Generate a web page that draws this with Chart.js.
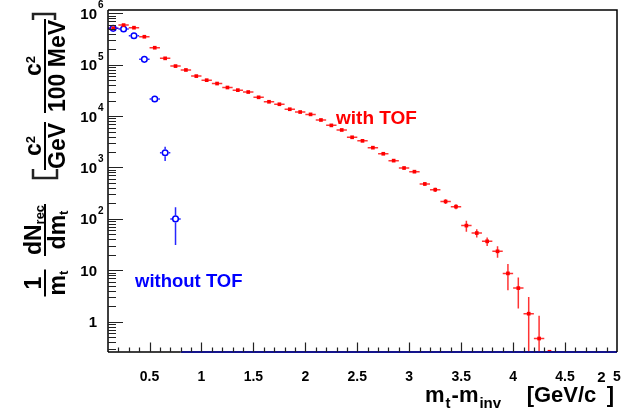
<!DOCTYPE html>
<html>
<head>
<meta charset="utf-8">
<script src="https://cdn.jsdelivr.net/npm/chart.js@4.4.1/dist/chart.umd.min.js"></script>
<style>
  html, body { margin: 0; padding: 0; background: #fff; }
  #wrap { width: 643px; height: 414px; }
</style>
</head>
<body>
<div id="wrap"><canvas id="mtChart" width="643" height="414"></canvas></div>
<script>
// bin centres of m_t - m_inv (GeV/c^2), bin width 0.1
var binCenters = [0.15, 0.25, 0.35, 0.45, 0.55, 0.65, 0.75, 0.85, 0.95, 1.05,
  1.15, 1.25, 1.35, 1.45, 1.55, 1.65, 1.75, 1.85, 1.95, 2.05,
  2.15, 2.25, 2.35, 2.45, 2.55, 2.65, 2.75, 2.85, 2.95, 3.05,
  3.15, 3.25, 3.35, 3.45, 3.55, 3.65, 3.75, 3.85, 3.95, 4.05,
  4.15, 4.25, 4.35, 4.45, 4.55, 4.65, 4.75, 4.85, 4.95];

// "with TOF" spectrum (first 43 bins)
var withTof = [5.1e5, 5.9e5, 5.25e5, 3.5e5, 2.14e5, 1.33e5, 9.4e4, 7.9e4, 6.0e4, 5.0e4,
  4.3e4, 3.6e4, 3.2e4, 2.94e4, 2.32e4, 1.9e4, 1.7e4, 1.36e4, 1.2e4, 1.08e4,
  8400, 6600, 5370, 3870, 3300, 2430, 1850, 1360, 977, 829,
  478, 370, 218, 173, 74, 53, 36.6, 23.4, 8.7, 4.5,
  1.43, 0.47, 0.26];
var withTofErr = [8000, 9000, 8000, 6000, 4000, 2600, 1900, 1600, 1300, 1100,
  950, 800, 720, 680, 560, 470, 430, 360, 330, 300,
  250, 210, 180, 140, 125, 100, 85, 68, 55, 50,
  38, 35, 24, 19, 18, 9.8, 7, 5.9, 4.6, 2.7,
  1.6, 0.84, 0];

// "without TOF" spectrum (all bins, empty above 0.8)
var withoutTof = [5.1e5, 4.95e5, 3.66e5, 1.27e5, 2.15e4, 1940, 100, 0, 0, 0,
  0, 0, 0, 0, 0, 0, 0, 0, 0, 0,
  0, 0, 0, 0, 0, 0, 0, 0, 0, 0,
  0, 0, 0, 0, 0, 0, 0, 0, 0, 0,
  0, 0, 0, 0, 0, 0, 0, 0, 0];
var withoutTofErr = [7000, 7000, 6000, 3500, 1500, 600, 69, 0, 0, 0,
  0, 0, 0, 0, 0, 0, 0, 0, 0, 0,
  0, 0, 0, 0, 0, 0, 0, 0, 0, 0,
  0, 0, 0, 0, 0, 0, 0, 0, 0, 0,
  0, 0, 0, 0, 0, 0, 0, 0, 0];

var xTickValues = [0.5, 1, 1.5, 2, 2.5, 3, 3.5, 4, 4.5, 5];
var xTickLabels = ['0.5', '1', '1.5', '2', '2.5', '3', '3.5', '4', '4.5', '5'];
var yTickValues = [1e6, 1e5, 1e4, 1e3, 1e2, 10, 1];
var yTickBase = ['10', '10', '10', '10', '10', '10', '1'];
var yTickExp = ['6', '5', '4', '3', '2', '', ''];

var BIN_HALF = 0.05;
var FONT = '"Liberation Sans", Arial, Helvetica, sans-serif';

function font(size) {
  return 'bold ' + size + 'px ' + FONT;
}

// pieces: [{t: text, k: 'sub'|'sup'}]
function richWidth(ctx, pieces, st) {
  var w = 0;
  pieces.forEach(function (p) {
    ctx.font = font(p.k ? st.small : st.size);
    w += ctx.measureText(p.t).width + (p.k ? st.gap || 0 : 0);
  });
  return w;
}

function drawRich(ctx, pieces, x, y, st) {
  ctx.textAlign = 'left';
  ctx.textBaseline = 'alphabetic';
  pieces.forEach(function (p) {
    var dy = 0;
    if (p.k === 'sub') dy = st.subDy;
    if (p.k === 'sup') dy = st.supDy;
    ctx.font = font(p.k ? st.small : st.size);
    if (p.k) x += (st.gap || 0) / 2;
    ctx.fillText(p.t, x, y + dy);
    x += ctx.measureText(p.t).width;
    if (p.k) x += (st.gap || 0) / 2;
  });
}

var errorBarPlugin = {
  id: 'errorBars',
  beforeDatasetsDraw: function (chart) {
    var ctx = chart.ctx;
    var xs = chart.scales.x;
    var ys = chart.scales.y;
    var area = chart.chartArea;
    ctx.save();
    ctx.beginPath();
    ctx.rect(area.left, area.top, area.right - area.left, area.bottom - area.top);
    ctx.clip();
    chart.data.datasets.forEach(function (ds) {
      ctx.strokeStyle = ds.errorColor;
      ctx.lineWidth = ds.errorWidth;
      ds.data.forEach(function (p, i) {
        if (!(p.y > 0)) return;
        var e = ds.errors[i] || 0;
        var px = xs.getPixelForValue(p.x);
        var py = ys.getPixelForValue(p.y);
        var xl = xs.getPixelForValue(p.x - BIN_HALF);
        var xr = xs.getPixelForValue(p.x + BIN_HALF);
        var yt = ys.getPixelForValue(p.y + e);
        var yb = p.y - e > ys.min ? ys.getPixelForValue(p.y - e) : area.bottom;
        var g = ds.errorGap;
        ctx.beginPath();
        ctx.moveTo(xl, py); ctx.lineTo(px - g, py);
        ctx.moveTo(px + g, py); ctx.lineTo(xr, py);
        if (py - yt > g) { ctx.moveTo(px, py - g); ctx.lineTo(px, yt); }
        if (yb - py > g) { ctx.moveTo(px, py + g); ctx.lineTo(px, yb); }
        ctx.stroke();
      });
    });
    ctx.restore();
  }
};

var frameStyle = { size: 23, small: 13, subDy: 3, supDy: -6 };

function drawFraction(ctx, num, den, center) {
  var wn = richWidth(ctx, num, frameStyle);
  var wd = richWidth(ctx, den, frameStyle);
  var wb = Math.max(wn, wd) + 2;
  drawRich(ctx, num, -center - wn / 2, -4, frameStyle);
  drawRich(ctx, den, -center - wd / 2, 20, frameStyle);
  ctx.beginPath();
  ctx.moveTo(-center - wb / 2, 0);
  ctx.lineTo(-center + wb / 2, 0);
  ctx.stroke();
}

var rootFramePlugin = {
  id: 'rootFrame',
  afterDatasetsDraw: function (chart) {
    var ctx = chart.ctx;
    var xs = chart.scales.x;
    var ys = chart.scales.y;
    var a = chart.chartArea;
    ctx.save();

    // empty bins drawn along the bottom of the frame
    chart.data.datasets.forEach(function (ds) {
      if (!ds.zeroColor) return;
      ctx.strokeStyle = ds.zeroColor;
      ctx.lineWidth = 2;
      ctx.beginPath();
      ds.data.forEach(function (p) {
        if (p.y !== 0) return;
        ctx.moveTo(xs.getPixelForValue(p.x - BIN_HALF), a.bottom);
        ctx.lineTo(xs.getPixelForValue(p.x + BIN_HALF), a.bottom);
      });
      ctx.stroke();
    });

    // frame
    ctx.strokeStyle = '#000';
    ctx.lineWidth = 1.5;
    ctx.beginPath();
    ctx.moveTo(a.left, a.top); ctx.lineTo(a.right, a.top); ctx.lineTo(a.right, a.bottom);
    ctx.moveTo(a.left, a.top); ctx.lineTo(a.left, a.bottom);
    ctx.moveTo(a.left, a.bottom); ctx.lineTo(xs.getPixelForValue(0.8), a.bottom);
    ctx.stroke();

    // y ticks
    ctx.lineWidth = 1.2;
    ctx.strokeStyle = '#222';
    ctx.beginPath();
    for (var d = -1; d <= 6; d++) {
      for (var k = 1; k <= 9; k++) {
        var v = k * Math.pow(10, d);
        if (v < ys.min || v > ys.max) continue;
        var py = Math.round(ys.getPixelForValue(v)) + 0.5;
        ctx.moveTo(a.left, py);
        ctx.lineTo(a.left + (k === 1 ? 15 : 8), py);
      }
    }
    // x ticks
    for (var t = 1; t <= 50; t++) {
      var xv = t / 10;
      if (xv < xs.min + 1e-9 || xv > xs.max - 1e-9) continue;
      var px = Math.round(xs.getPixelForValue(xv)) + 0.5;
      ctx.moveTo(px, a.bottom);
      ctx.lineTo(px, a.bottom - (t % 5 === 0 ? 9.5 : 4.5));
    }
    ctx.stroke();

    // tick labels
    ctx.fillStyle = '#000';
    ctx.textBaseline = 'alphabetic';
    ctx.font = font(14);
    ctx.textAlign = 'center';
    xTickValues.forEach(function (v, i) {
      ctx.fillText(xTickLabels[i], xs.getPixelForValue(v), 381);
    });
    yTickValues.forEach(function (v, i) {
      var py = ys.getPixelForValue(v);
      ctx.font = font(15);
      ctx.textAlign = 'right';
      ctx.fillText(yTickBase[i], 97, py + 5.5);
      if (yTickExp[i]) {
        ctx.font = font(10);
        ctx.textAlign = 'left';
        ctx.fillText(yTickExp[i], 98, py - 5);
      }
    });

    // x axis title
    var xStyle = { size: 22, small: 15, subDy: 6.5, supDy: -20, gap: 2 };
    drawRich(ctx, [{ t: 'm' }, { t: 't', k: 'sub' }, { t: '-m' }, { t: 'inv', k: 'sub' }], 425, 401.5, xStyle);
    var unit = [{ t: '[GeV/c' }, { t: '2', k: 'sup' }, { t: ']' }];
    drawRich(ctx, unit, 614 - richWidth(ctx, unit, xStyle), 401.5, xStyle);

    // y axis title, rotated
    ctx.save();
    ctx.translate(45, 0);
    ctx.rotate(-Math.PI / 2);
    ctx.strokeStyle = '#000';
    ctx.lineWidth = 2;
    drawFraction(ctx, [{ t: '1' }], [{ t: 'm' }, { t: 't', k: 'sub' }], 283);
    drawFraction(ctx, [{ t: 'dN' }, { t: 'rec', k: 'sub' }], [{ t: 'dm' }, { t: 't', k: 'sub' }], 230);
    drawFraction(ctx, [{ t: 'c' }, { t: '2', k: 'sup' }], [{ t: 'GeV' }], 146);
    drawFraction(ctx, [{ t: 'c' }, { t: '2', k: 'sup' }], [{ t: '100 MeV' }], 66);
    ctx.restore();
    // brackets
    ctx.lineWidth = 2.5;
    ctx.beginPath();
    ctx.moveTo(33, 169); ctx.lineTo(33, 178); ctx.lineTo(57, 178); ctx.lineTo(57, 169);
    ctx.moveTo(33, 20); ctx.lineTo(33, 14); ctx.lineTo(55, 14); ctx.lineTo(55, 20);
    ctx.stroke();

    // series labels
    ctx.textAlign = 'left';
    ctx.font = font(19);
    ctx.fillStyle = '#ff0000';
    ctx.fillText('with TOF', 336, 123.5);
    ctx.font = font(18.5);
    ctx.fillStyle = '#0000ff';
    ctx.fillText('without TOF', 135, 286.7);

    ctx.restore();
  }
};

function toPoints(values) {
  return values.map(function (v, i) {
    return { x: binCenters[i], y: v };
  });
}

new Chart(document.getElementById('mtChart'), {
  type: 'scatter',
  data: {
    datasets: [
      {
        label: 'with TOF',
        data: toPoints(withTof),
        errors: withTofErr,
        errorColor: 'rgba(255, 0, 0, 0.8)',
        errorWidth: 1.5,
        errorGap: 0,
        pointStyle: 'rect',
        pointRadius: 2.6,
        borderWidth: 0,
        backgroundColor: '#ff0000',
        borderColor: '#ff0000'
      },
      {
        label: 'without TOF',
        data: toPoints(withoutTof),
        errors: withoutTofErr,
        errorColor: 'rgba(0, 0, 255, 0.85)',
        errorWidth: 1.5,
        errorGap: 3.5,
        zeroColor: '#14148c',
        pointStyle: 'circle',
        pointRadius: 2.8,
        borderWidth: 1.5,
        backgroundColor: '#ffffff',
        borderColor: '#0000ff'
      }
    ]
  },
  options: {
    responsive: false,
    devicePixelRatio: 1,
    animation: false,
    layout: { padding: { left: 108, top: 10, right: 26, bottom: 62 } },
    plugins: { legend: { display: false }, tooltip: { enabled: false } },
    scales: {
      x: { type: 'linear', min: 0.1, max: 5, display: false },
      y: { type: 'logarithmic', min: 0.257, max: 1.16e6, display: false }
    }
  },
  plugins: [errorBarPlugin, rootFramePlugin]
});
</script>
</body>
</html>
